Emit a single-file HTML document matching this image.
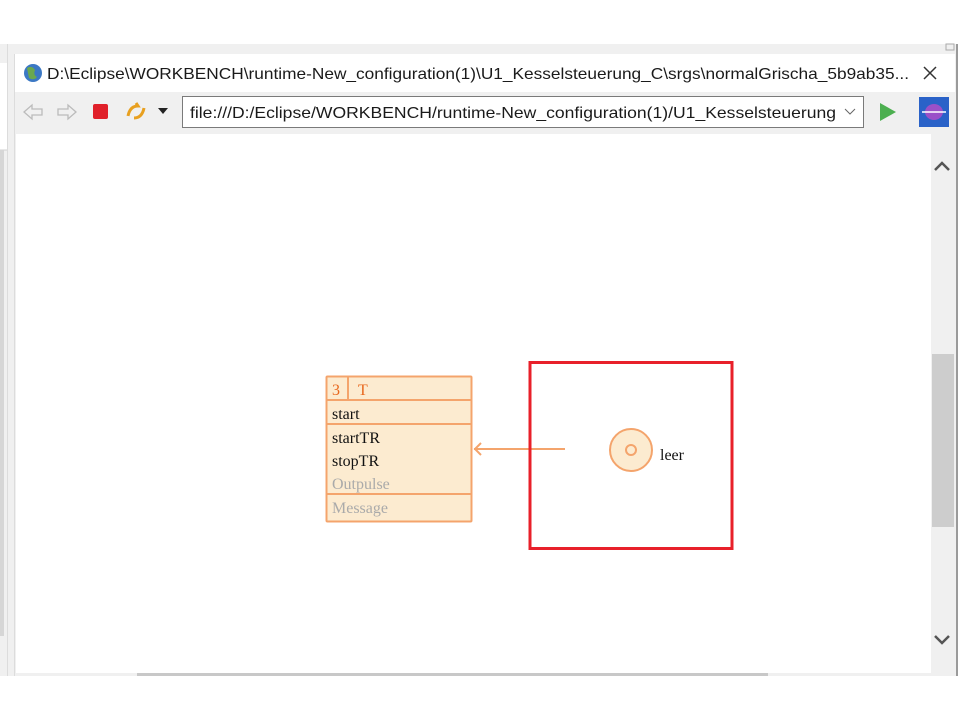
<!DOCTYPE html>
<html><head><meta charset="utf-8"><style>body{margin:0;width:960px;height:720px;overflow:hidden;background:#fff}</style></head><body>
<svg width="960" height="720" xmlns="http://www.w3.org/2000/svg" font-family="Liberation Sans, sans-serif">
<rect x="0" y="0" width="960" height="720" fill="#fff"/>
<rect x="0" y="44" width="958" height="632" fill="#f0f0f0"/>
<!-- left panel -->
<rect x="0" y="63" width="7" height="87" fill="#fff"/>
<line x1="0" y1="150" x2="7" y2="150" stroke="#d0d0d0"/>
<rect x="0" y="150" width="4" height="486" fill="#d6d6d6"/>
<line x1="7.5" y1="44" x2="7.5" y2="676" stroke="#dcdcdc"/>
<line x1="14.5" y1="54" x2="14.5" y2="676" stroke="#dcdcdc"/>
<!-- right edge -->
<rect x="956" y="44" width="2" height="632" fill="#9a9a9a"/>
<rect x="946" y="44" width="8" height="6" fill="none" stroke="#aaa"/>
<!-- tab -->
<rect x="15" y="54" width="940" height="38" fill="#fff"/>
<circle cx="33" cy="73" r="9" fill="#3b78c4"/>
<path d="M27 68 q5 -3 8 2 q-2 5 2 7 q-3 4 -8 1 z" fill="#6aa84f"/>
<text x="47" y="79" font-size="16" fill="#1a1a1a" textLength="862" lengthAdjust="spacingAndGlyphs">D:\Eclipse\WORKBENCH\runtime-New_configuration(1)\U1_Kesselsteuerung_C\srgs\normalGrischa_5b9ab35...</text>
<path d="M924 67 l12 12 M936 67 l-12 12" stroke="#333" stroke-width="1.5"/>
<!-- toolbar -->
<path d="M24 112 l8 -7 v4 h10 v6 h-10 v4 z" fill="none" stroke="#bbb" stroke-width="1.3"/>
<path d="M76 112 l-8 -7 v4 h-10 v6 h10 v4 z" fill="none" stroke="#bbb" stroke-width="1.3"/>
<rect x="93" y="104" width="15" height="15" rx="2" fill="#e0202a"/>
<path d="M128 116 q2 -10 10 -10 l-2 -3 M144 108 q-2 10 -10 10" stroke="#e8a020" stroke-width="3" fill="none"/>
<path d="M158 108 h10 l-5 6 z" fill="#222"/>
<rect x="182.5" y="96.5" width="681" height="31" fill="#fff" stroke="#7a7a7a"/>
<text x="190" y="118" font-size="16" fill="#1a1a1a" textLength="646" lengthAdjust="spacingAndGlyphs">file:///D:/Eclipse/WORKBENCH/runtime-New_configuration(1)/U1_Kesselsteuerung</text>
<path d="M845 109 l5 5 l5 -5" stroke="#666" fill="none"/>
<path d="M880 103 l16 9 l-16 9 z" fill="#4caf50"/>
<rect x="919" y="97" width="30" height="30" fill="#2a62c8"/>
<ellipse cx="934" cy="112" rx="9" ry="8" fill="#9a50c8"/>
<line x1="922" y1="112" x2="946" y2="112" stroke="#fff" stroke-width="1.5"/>
<!-- content -->
<rect x="16" y="134" width="915" height="539" fill="#fff"/>
<rect x="931" y="134" width="24" height="540" fill="#f0f0f0"/>
<rect x="932" y="354" width="22" height="173" fill="#cdcdcd"/>
<path d="M935 170 l7 -7 l7 7" stroke="#555" stroke-width="2.5" fill="none"/>
<path d="M935 636 l7 7 l7 -7" stroke="#555" stroke-width="2.5" fill="none"/>
<rect x="137" y="673" width="631" height="3" fill="#c8c8c8"/>
<!-- diagram -->
<rect x="326.5" y="376.5" width="145" height="145" fill="#fcebd0" stroke="#f4a46c" stroke-width="2" rx="1"/>
<line x1="326" y1="400" x2="472" y2="400" stroke="#f4a46c" stroke-width="2"/>
<line x1="326" y1="424" x2="472" y2="424" stroke="#f4a46c" stroke-width="2"/>
<line x1="326" y1="494" x2="472" y2="494" stroke="#f4a46c" stroke-width="2"/>
<line x1="348" y1="376" x2="348" y2="400" stroke="#f4a46c" stroke-width="2"/>
<g font-family="Liberation Serif, serif" font-size="16">
<text x="332" y="395" fill="#e8681e">3</text>
<text x="358" y="395" fill="#e8681e">T</text>
<text x="332" y="419" fill="#111">start</text>
<text x="332" y="443" fill="#111">startTR</text>
<text x="332" y="466" fill="#111">stopTR</text>
<text x="332" y="489" fill="#aaa">Outpulse</text>
<text x="332" y="513" fill="#aaa">Message</text>
<text x="660" y="460" fill="#111">leer</text>
</g>
<line x1="474" y1="449" x2="565" y2="449" stroke="#f4a46c" stroke-width="2"/>
<path d="M481 443 l-6 6 l6 6" stroke="#f4a46c" stroke-width="2" fill="none"/>
<rect x="530" y="362.5" width="202" height="186" fill="none" stroke="#e8202a" stroke-width="3"/>
<circle cx="631" cy="450" r="21" fill="#fcebd0" stroke="#f4a46c" stroke-width="2"/>
<circle cx="631" cy="450" r="5" fill="#fcebd0" stroke="#f4a46c" stroke-width="2"/>
</svg>
</body></html>
